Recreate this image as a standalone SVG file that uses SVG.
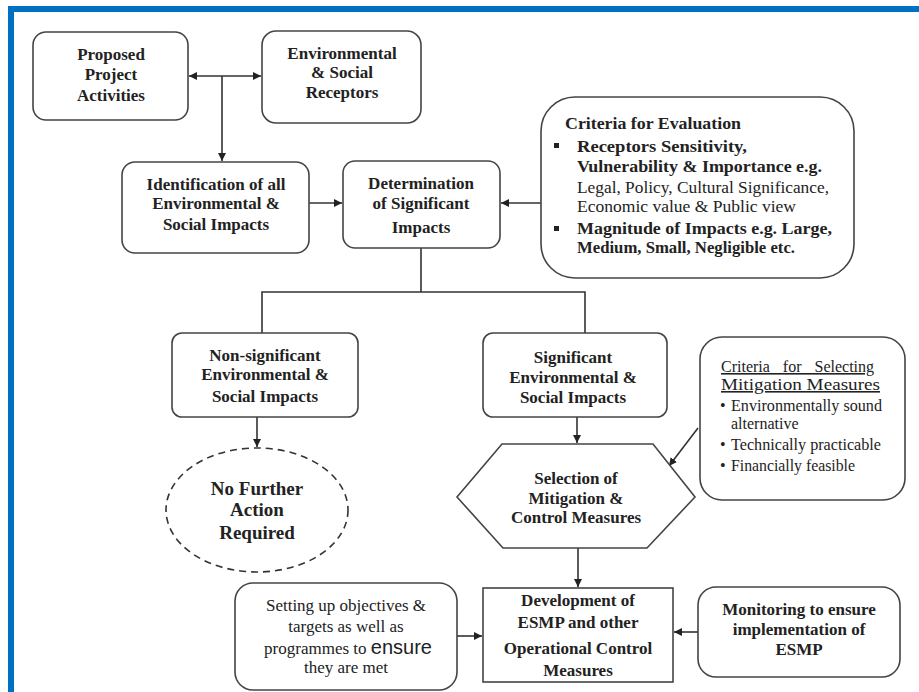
<svg xmlns="http://www.w3.org/2000/svg" width="919" height="692" viewBox="0 0 919 692">
  <defs>
    <marker id="arrow" viewBox="0 0 10 10" refX="10" refY="5" markerWidth="8" markerHeight="8" markerUnits="userSpaceOnUse" orient="auto-start-reverse">
      <path d="M0,0 L10,5 L0,10 z" fill="#222"/>
    </marker>
    <style>
      .box { fill: #fff; stroke: #444; stroke-width: 1.6; }
      .wire { fill: none; stroke: #333; stroke-width: 1.6; }
      text { font-family: "Liberation Serif", Tinos, "DejaVu Serif", "Noto Serif", serif; fill: #222; }
      .t { font-size: 17px; text-anchor: middle; }
      .b { font-weight: bold; }
      .c { font-size: 16px; font-weight: bold; }
      .cn { font-weight: normal; }
      .s { font-size: 16px; }
    </style>
  </defs>

  <rect width="919" height="692" fill="#fff"/>
  <!-- frame -->
  <rect x="8" y="6" width="911" height="6" fill="#0070c0"/>
  <rect x="8" y="6" width="6" height="686" fill="#0070c0"/>

  <!-- connectors -->
  <g id="connectors">
    <line class="wire" x1="189" y1="76" x2="261" y2="76" marker-start="url(#arrow)" marker-end="url(#arrow)"/>
    <line class="wire" x1="222" y1="76" x2="222" y2="161" marker-end="url(#arrow)"/>
    <line class="wire" x1="309" y1="203" x2="342" y2="203" marker-end="url(#arrow)"/>
    <line class="wire" x1="541" y1="203" x2="501" y2="203" marker-end="url(#arrow)"/>
    <polyline class="wire" points="421,248 421,292"/>
    <polyline class="wire" points="262,333 262,292 585,292 585,333"/>
    <line class="wire" x1="257" y1="417" x2="257" y2="447" marker-end="url(#arrow)"/>
    <line class="wire" x1="577" y1="417" x2="577" y2="443" marker-end="url(#arrow)"/>
    <line class="wire" x1="698" y1="428" x2="669" y2="466" marker-end="url(#arrow)"/>
    <line class="wire" x1="578" y1="548" x2="578" y2="587" marker-end="url(#arrow)"/>
    <line class="wire" x1="457" y1="636" x2="482" y2="636" marker-end="url(#arrow)"/>
    <line class="wire" x1="698" y1="632" x2="674" y2="632" marker-end="url(#arrow)"/>
  </g>

  <g id="proposed">
    <rect class="box" x="33" y="32" width="155" height="88" rx="13"/>
    <text class="t b" x="111" y="60">Proposed</text>
    <text class="t b" x="111" y="80">Project</text>
    <text class="t b" x="111" y="101">Activities</text>
  </g>

  <g id="receptors">
    <rect class="box" x="262" y="31" width="159" height="92" rx="14"/>
    <text class="t b" x="342" y="59">Environmental</text>
    <text class="t b" x="342" y="78">&amp; Social</text>
    <text class="t b" x="342" y="98">Receptors</text>
  </g>

  <g id="identification">
    <rect class="box" x="122" y="162" width="187" height="91" rx="13"/>
    <text class="t b" x="216" y="190">Identification of all</text>
    <text class="t b" x="216" y="209">Environmental &amp;</text>
    <text class="t b" x="216" y="230">Social Impacts</text>
  </g>

  <g id="determination">
    <rect class="box" x="343" y="161" width="157" height="87" rx="12"/>
    <text class="t b" x="421" y="189">Determination</text>
    <text class="t b" x="421" y="209">of Significant</text>
    <text class="t b" x="421" y="233">Impacts</text>
  </g>

  <g id="evaluation-criteria">
    <rect class="box" x="541" y="97" width="313" height="181" rx="34"/>
    <text class="c" x="565" y="129" textLength="176" lengthAdjust="spacingAndGlyphs">Criteria for Evaluation</text>
    <rect x="554" y="143" width="5" height="5" fill="#222"/>
    <text class="c" x="577" y="152" textLength="170" lengthAdjust="spacingAndGlyphs">Receptors Sensitivity,</text>
    <text class="c" x="577" y="172" textLength="245" lengthAdjust="spacingAndGlyphs">Vulnerability &amp; Importance e.g.</text>
    <text class="c cn" x="577" y="193" textLength="252" lengthAdjust="spacingAndGlyphs">Legal, Policy, Cultural Significance,</text>
    <text class="c cn" x="577" y="212" textLength="219" lengthAdjust="spacingAndGlyphs">Economic value &amp; Public view</text>
    <rect x="554" y="226" width="5" height="5" fill="#222"/>
    <text class="c" x="577" y="234" textLength="255" lengthAdjust="spacingAndGlyphs">Magnitude of Impacts e.g. Large,</text>
    <text class="c" x="577" y="253" textLength="218" lengthAdjust="spacingAndGlyphs">Medium, Small, Negligible etc.</text>
  </g>

  <g id="non-significant">
    <rect class="box" x="172" y="333" width="186" height="84" rx="10"/>
    <text class="t b" x="265" y="361">Non-significant</text>
    <text class="t b" x="265" y="380">Environmental &amp;</text>
    <text class="t b" x="265" y="402">Social Impacts</text>
  </g>

  <g id="no-further-action">
    <ellipse cx="257" cy="510" rx="91" ry="62" fill="#fff" stroke="#333" stroke-width="1.6" stroke-dasharray="7 5"/>
    <text class="t b" x="257" y="495" style="font-size:19px">No Further</text>
    <text class="t b" x="257" y="516" style="font-size:19px">Action</text>
    <text class="t b" x="257" y="539" style="font-size:19px">Required</text>
  </g>

  <g id="significant">
    <rect class="box" x="483" y="333" width="184" height="84" rx="10"/>
    <text class="t b" x="573" y="363">Significant</text>
    <text class="t b" x="573" y="383">Environmental &amp;</text>
    <text class="t b" x="573" y="403">Social Impacts</text>
  </g>

  <g id="mitigation-criteria">
    <rect class="box" x="700" y="337" width="205" height="163" rx="22"/>
    <text class="s" x="721" y="372" text-decoration="underline" word-spacing="9">Criteria for Selecting</text>
    <text class="s" x="721" y="390" text-decoration="underline" textLength="159" lengthAdjust="spacingAndGlyphs">Mitigation Measures</text>
    <text class="s" x="720" y="411">•</text>
    <text class="s" x="731" y="411" textLength="151" lengthAdjust="spacingAndGlyphs">Environmentally sound</text>
    <text class="s" x="731" y="429">alternative</text>
    <text class="s" x="720" y="450">•</text>
    <text class="s" x="731" y="450" textLength="150" lengthAdjust="spacingAndGlyphs">Technically practicable</text>
    <text class="s" x="720" y="471">•</text>
    <text class="s" x="731" y="471" textLength="124" lengthAdjust="spacingAndGlyphs">Financially feasible</text>
  </g>

  <g id="selection">
    <polygon class="box" points="502,444 653,444 695,497 647,548 503,548 457,497"/>
    <text class="t b" x="576" y="484">Selection of</text>
    <text class="t b" x="576" y="504">Mitigation &amp;</text>
    <text class="t b" x="576" y="523">Control Measures</text>
  </g>

  <g id="objectives">
    <rect class="box" x="235" y="583" width="222" height="107" rx="18"/>
    <text class="t" x="346" y="611">Setting up objectives &amp;</text>
    <text class="t" x="346" y="632">targets as well as</text>
    <text class="t" x="348" y="654">programmes to <tspan style="font-family:'Liberation Sans','Open Sans',sans-serif;font-size:20px">ensure</tspan></text>
    <text class="t" x="346" y="673">they are met</text>
  </g>

  <g id="esmp">
    <rect class="box" x="483" y="588" width="190" height="94"/>
    <text class="t b" x="578" y="606">Development of</text>
    <text class="t b" x="578" y="628">ESMP and other</text>
    <text class="t b" x="578" y="654">Operational Control</text>
    <text class="t b" x="578" y="676">Measures</text>
  </g>

  <g id="monitoring">
    <rect class="box" x="698" y="587" width="202" height="90" rx="18"/>
    <text class="t b" x="799" y="615">Monitoring to ensure</text>
    <text class="t b" x="799" y="635">implementation of</text>
    <text class="t b" x="799" y="655">ESMP</text>
  </g>
</svg>
